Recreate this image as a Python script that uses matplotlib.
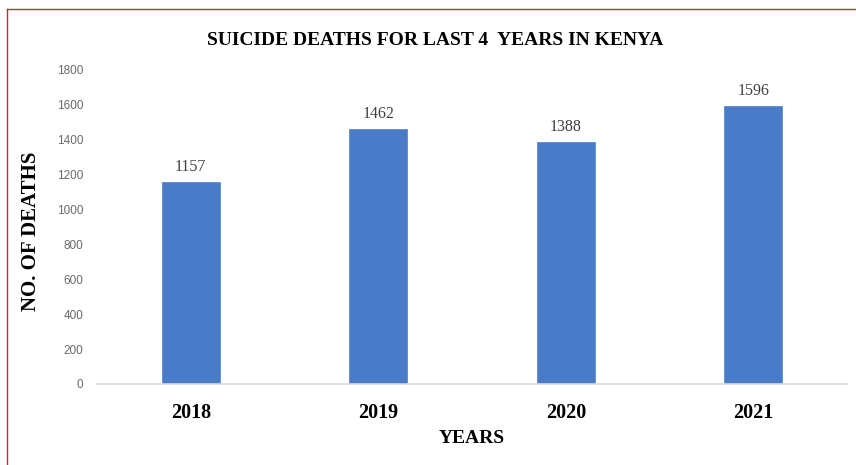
import matplotlib.pyplot as plt
from matplotlib.lines import Line2D

# suicide deaths per year
years = ['2018', '2019', '2020', '2021']
deaths = [1157, 1462, 1388, 1596]
yticks = list(range(0, 2000, 200))

serif = ['Liberation Serif', 'DejaVu Serif']
sans = ['Liberation Sans', 'DejaVu Sans']

fig = plt.figure(figsize=(8.56, 4.65), dpi=100, facecolor='white')
ax = fig.add_axes([0.1133, 0.1742, 0.8762, 0.6753])

x = range(len(years))
bars = ax.bar(x, deaths, width=0.31, color='#4a7bc8', edgecolor='#5b8bd6', linewidth=0.6, zorder=2)

# value labels above the bars
for xi, v in zip(x, deaths):
    ax.text(xi, v + 40, str(v), ha='center', va='bottom', fontsize=11.5,
            family=serif, color='#404040')

ax.set_xlim(-0.5, len(years) - 0.5)
ax.set_ylim(0, 1800)
ax.set_yticks(yticks)
ax.set_yticklabels([str(t) for t in yticks], fontsize=8.5, family=sans, color='#6a6a6a')
ax.set_xticks(list(x))
ax.set_xticklabels(years, fontsize=14.5, fontweight='bold', family=serif, color='black')
ax.tick_params(axis='both', length=0)
ax.tick_params(axis='y', pad=10)
ax.tick_params(axis='x', pad=14)

for side in ['top', 'right', 'left']:
    ax.spines[side].set_visible(False)
ax.spines['bottom'].set_color('#d9d9d9')
ax.spines['bottom'].set_linewidth(1.2)

ax.set_xlabel('YEARS', fontsize=14, fontweight='bold', family=serif, labelpad=5)
ax.set_ylabel('NO. OF DEATHS', fontsize=15, fontweight='bold', family=serif)
ax.yaxis.set_label_coords(-0.075, 0.485)

fig.text(0.508, 0.912, 'SUICIDE DEATHS FOR LAST 4  YEARS IN KENYA', ha='center', va='center',
         fontsize=14, fontweight='bold', family=serif)

# dark red frame on the left and top
fig.add_artist(Line2D([0.0082, 0.0082], [0, 0.981], color='#a33a3a', linewidth=1.0,
                      transform=fig.transFigure))
fig.add_artist(Line2D([0.0082, 1.0], [0.981, 0.981], color='#a33a3a', linewidth=1.0,
                      transform=fig.transFigure))

plt.savefig('out.png', dpi=100)
